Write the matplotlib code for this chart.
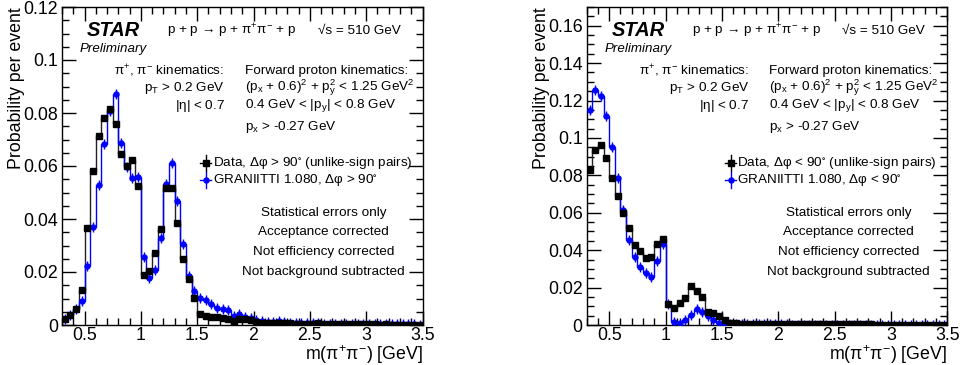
import numpy as np
import matplotlib
matplotlib.use("Agg")
import matplotlib.pyplot as plt
from matplotlib.ticker import MultipleLocator, FuncFormatter

plt.rcParams['font.family'] = ['Liberation Sans', 'DejaVu Sans']
plt.rcParams['mathtext.fontset'] = 'custom'
plt.rcParams['mathtext.rm'] = 'Liberation Sans'
plt.rcParams['mathtext.it'] = 'Liberation Sans:italic'
plt.rcParams['mathtext.bf'] = 'Liberation Sans:bold'
plt.rcParams['mathtext.default'] = 'regular'

# bin edges of m(pi+pi-) histograms [GeV]
edges = np.round(np.arange(0.30, 3.5001, 0.05), 3)

# left: delta phi > 90
data_gt90 = [0.0022, 0.0038, 0.0059, 0.0133, 0.0367, 0.0583, 0.0712, 0.0780, 0.0815, 0.0757,
             0.0647, 0.0600, 0.0624, 0.0525,
             0.0189, 0.0205, 0.0273, 0.0362, 0.0517, 0.0517, 0.0385, 0.0250, 0.0173, 0.0101,
             0.0040, 0.0033, 0.0029, 0.0030, 0.0025, 0.0021, 0.0016, 0.0021, 0.0021, 0.0019,
             0.0012, 0.0009, 0.0009, 0.0007, 0.0006, 0.0007, 0.0006, 0.0005, 0.0004, 0.0005,
             0.0004, 0.0006, 0.0004, 0.0003, 0.0003, 0.0002, 0.0003, 0.0002, 0.0002, 0.0002,
             0.0002, 0.0002, 0.0001, 0.0002, 0.0001, 0.0001, 0.0001, 0.0001, 0.0001, 0.0001]
gran_gt90 = [0.0023, 0.0036, 0.0060, 0.0092, 0.0224, 0.0368, 0.0530, 0.0684, 0.0808, 0.0870,
             0.0687, 0.0598, 0.0553, 0.0558,
             0.0258, 0.0177, 0.0208, 0.0328, 0.0532, 0.0613, 0.0468, 0.0306, 0.0186, 0.0130,
             0.0102, 0.0095, 0.0080, 0.0066, 0.0062, 0.0055, 0.0035, 0.0042, 0.0032, 0.0028,
             0.0020, 0.0015, 0.0013, 0.0013, 0.0015, 0.0010, 0.0009, 0.0009, 0.0008, 0.0007,
             0.0006, 0.0006, 0.0005, 0.0005, 0.0004, 0.0004, 0.0004, 0.0003, 0.0003, 0.0003,
             0.0003, 0.0003, 0.0002, 0.0002, 0.0002, 0.0002, 0.0002, 0.0002, 0.0002, 0.0001]

# right: delta phi < 90
data_lt90 = [0.0827, 0.0935, 0.0960, 0.0894, 0.0788, 0.0690, 0.0597, 0.0517, 0.0428, 0.0393,
             0.0357, 0.0362, 0.0432, 0.0460,
             0.0111, 0.0090, 0.0116, 0.0143, 0.0206, 0.0183, 0.0149, 0.0072, 0.0063, 0.0048,
             0.0027, 0.0013, 0.0009, 0.0008, 0.0007, 0.0007, 0.0006, 0.0006, 0.0006, 0.0006,
             0.0005, 0.0005, 0.0005, 0.0005, 0.0004, 0.0004, 0.0004, 0.0004, 0.0004, 0.0003,
             0.0003, 0.0003, 0.0003, 0.0003, 0.0003, 0.0003, 0.0003, 0.0002, 0.0002, 0.0002,
             0.0002, 0.0002, 0.0002, 0.0002, 0.0002, 0.0002, 0.0002, 0.0002, 0.0002, 0.0002]
gran_lt90 = [0.1149, 0.1255, 0.1223, 0.1117, 0.0953, 0.0788, 0.0617, 0.0455, 0.0366, 0.0311,
             0.0276, 0.0258, 0.0340, 0.0435,
             0.0113, 0.0014, 0.0009, 0.0027, 0.0054, 0.0084, 0.0068, 0.0048, 0.0027, 0.0013,
             0.0005, 0.0004, 0.0003, 0.0003, 0.0003, 0.0003, 0.0003, 0.0003, 0.0003, 0.0003,
             0.0003, 0.0003, 0.0002, 0.0002, 0.0002, 0.0002, 0.0002, 0.0002, 0.0002, 0.0002,
             0.0002, 0.0002, 0.0002, 0.0002, 0.0002, 0.0002, 0.0001, 0.0001, 0.0001, 0.0001,
             0.0001, 0.0001, 0.0001, 0.0001, 0.0001, 0.0001, 0.0001, 0.0001, 0.0001, 0.0001]

panels = [
    dict(data=data_gt90, gran=gran_gt90, ymax=0.12, sign='>'),
    dict(data=data_lt90, gran=gran_lt90, ymax=0.17, sign='<'),
]

fig = plt.figure(figsize=(9.6, 3.65), dpi=100)
lefts = [62 / 960, 586.7 / 960]
centers = (edges[:-1] + edges[1:]) / 2
BLUE = '#0000ff'
fs = 9.7

def fmt(v, pos):
    return '%g' % round(v, 4)

for left, p in zip(lefts, panels):
    ax = fig.add_axes([left, 40 / 365, 360.5 / 960, 318 / 365])
    ax.stairs(p['data'], edges, baseline=None, color='#222222', lw=1.0, zorder=2)
    ax.stairs(p['gran'], edges, baseline=None, color=BLUE, lw=1.0, zorder=2)
    ax.plot(centers, p['gran'], ls='none', marker='|', ms=7, mew=1.0, color=BLUE, zorder=3)
    ax.plot(centers, p['gran'], ls='none', marker='o', ms=3.6, color=BLUE, zorder=3)
    ax.plot(centers, p['data'], ls='none', marker='s', ms=5.0, color='black', zorder=4)

    ax.set_xlim(0.3, 3.5)
    ax.set_ylim(0, p['ymax'])
    ax.xaxis.set_major_locator(MultipleLocator(0.5))
    ax.xaxis.set_minor_locator(MultipleLocator(0.1))
    ax.yaxis.set_major_locator(MultipleLocator(0.02))
    ax.yaxis.set_minor_locator(MultipleLocator(0.005))
    ax.xaxis.set_major_formatter(FuncFormatter(fmt))
    ax.yaxis.set_major_formatter(FuncFormatter(fmt))
    ax.tick_params(which='both', direction='in', top=True, right=True, labelsize=12.8, width=1)
    ax.tick_params(which='major', length=10)
    ax.tick_params(which='minor', length=5)
    ax.tick_params(axis='x', which='major', pad=1.5)
    ax.tick_params(axis='y', which='major', pad=3)
    for s in ax.spines.values():
        s.set_linewidth(1.0)

    ax.text(-0.125, 1.0, 'Probability per event', transform=ax.transAxes, rotation=90,
            ha='center', va='top', fontsize=12.8)
    ax.text(1.0, -0.092, r'm($\pi^{+}\pi^{-}$) [GeV]', transform=ax.transAxes,
            ha='right', va='center', fontsize=12.8)

    T = ax.transAxes
    ax.text(0.069, 0.925, 'STAR', transform=T, fontsize=14.5, fontweight='bold',
            fontstyle='italic', va='center')
    ax.text(0.05, 0.868, 'Preliminary', transform=T, fontsize=9.6, fontstyle='italic', va='center')
    ax.text(0.291, 0.925, r'p + p → p + $\pi^{+}\pi^{-}$ + p', transform=T,
            fontsize=fs, va='center')
    ax.text(0.709, 0.925, '√s = 510 GeV', transform=T, fontsize=fs, va='center')

    ax.text(0.451, 0.799, r'$\pi^{+}$, $\pi^{-}$ kinematics:', transform=T, fontsize=fs,
            ha='right', va='center')
    ax.text(0.451, 0.745, r'p$_{T}$ > 0.2 GeV', transform=T, fontsize=fs, ha='right', va='center')
    ax.text(0.451, 0.689, r'|$\eta$| < 0.7', transform=T, fontsize=fs, ha='right', va='center')

    ax.text(0.507, 0.799, 'Forward proton kinematics:', transform=T, fontsize=fs, va='center')
    ax.text(0.507, 0.745, r'(p$_{x}$ + 0.6)$^{2}$ + p$_{y}^{2}$ < 1.25 GeV$^{2}$', transform=T,
            fontsize=fs, va='center')
    ax.text(0.507, 0.689, r'0.4 GeV < |p$_{y}$| < 0.8 GeV', transform=T, fontsize=fs, va='center')
    ax.text(0.507, 0.623, r'p$_{x}$ > -0.27 GeV', transform=T, fontsize=fs, va='center')

    # legend
    ly = [0.509, 0.456]
    ax.plot([0.384, 0.414], [ly[0], ly[0]], transform=T, color='black', lw=1.0)
    ax.plot([0.399, 0.399], [ly[0] - 0.025, ly[0] + 0.025], transform=T, color='black', lw=1.0)
    ax.plot([0.399], [ly[0]], transform=T, marker='s', ms=5, color='black', ls='none')
    ax.plot([0.384, 0.414], [ly[1], ly[1]], transform=T, color=BLUE, lw=1.0)
    ax.plot([0.399, 0.399], [ly[1] - 0.025, ly[1] + 0.025], transform=T, color=BLUE, lw=1.0)
    ax.plot([0.399], [ly[1]], transform=T, marker='o', ms=3.6, color=BLUE, ls='none')
    sg = p['sign']
    ax.text(0.418, ly[0], r'Data, $\Delta\varphi$ %s 90$^{\circ}$ (unlike-sign pairs)' % sg,
            transform=T, fontsize=fs, va='center')
    ax.text(0.418, ly[1], r'GRANIITTI 1.080, $\Delta\varphi$ %s 90$^{\circ}$' % sg,
            transform=T, fontsize=fs, va='center')

    for yy, s in zip([0.352, 0.292, 0.230, 0.167],
                     ['Statistical errors only', 'Acceptance corrected',
                      'Not efficiency corrected', 'Not background subtracted']):
        ax.text(0.726, yy, s, transform=T, fontsize=fs, ha='center', va='center')

fig.savefig('out.png', dpi=100)
